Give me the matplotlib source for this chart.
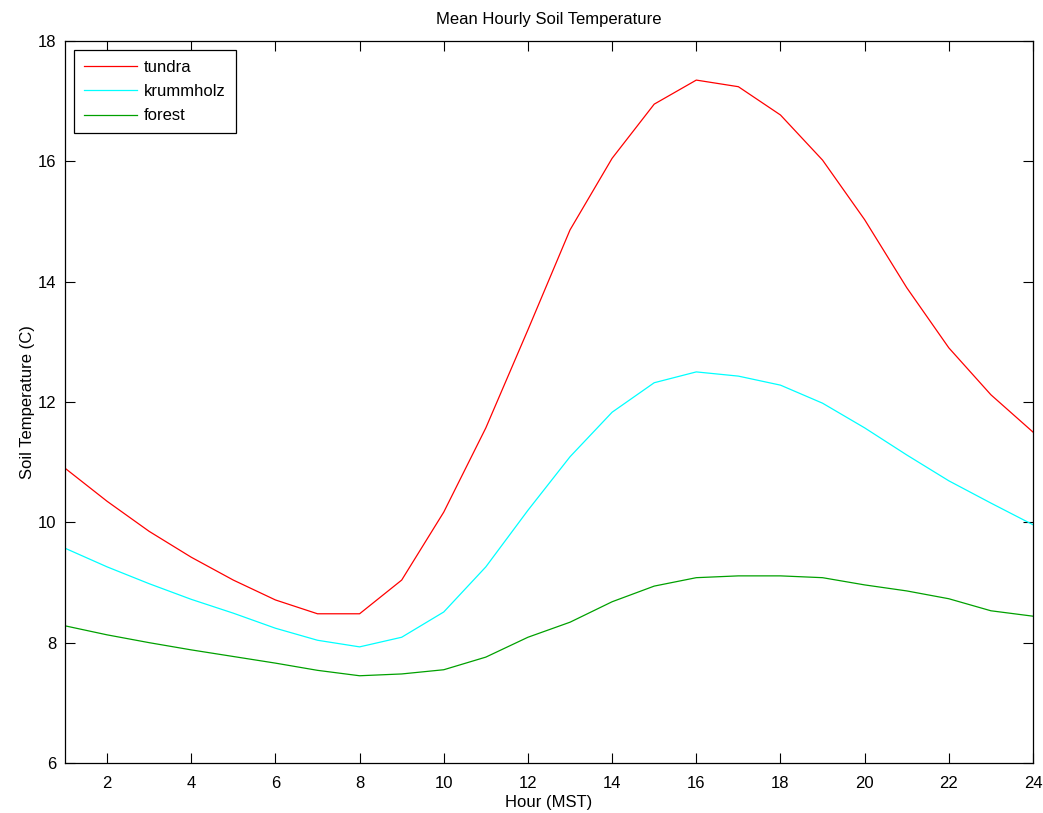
import numpy as np
import matplotlib.pyplot as plt

plt.rcParams['font.family'] = ['Liberation Sans', 'DejaVu Sans']

hours = list(range(1, 25))
tundra = [10.90, 10.35, 9.85, 9.42, 9.04, 8.71, 8.48, 8.48, 9.04, 10.17, 11.57, 13.20,
          14.86, 16.05, 16.95, 17.35, 17.24, 16.77, 16.02, 15.03, 13.90, 12.90, 12.12, 11.50]
krummholz = [9.57, 9.26, 8.98, 8.72, 8.49, 8.24, 8.04, 7.93, 8.09, 8.51, 9.26, 10.20,
             11.09, 11.83, 12.32, 12.50, 12.43, 12.28, 11.98, 11.57, 11.12, 10.69, 10.32, 9.96]
forest = [8.28, 8.13, 8.00, 7.88, 7.77, 7.66, 7.54, 7.45, 7.48, 7.55, 7.76, 8.09,
          8.34, 8.68, 8.94, 9.08, 9.11, 9.11, 9.08, 8.96, 8.86, 8.73, 8.53, 8.44]

fig = plt.figure(figsize=(10.43, 8.13), dpi=100)
ax = fig.add_axes([0.0623, 0.0615, 0.9281, 0.8881])

ax.plot(hours, tundra, color='#ff0000', lw=0.9, label='tundra')
ax.plot(hours, krummholz, color='#00ffff', lw=0.9, label='krummholz')
ax.plot(hours, forest, color='#00a000', lw=0.9, label='forest')

ax.set_xlim(1, 24)
ax.set_ylim(6, 18)
ax.set_xticks(np.arange(2, 25, 2))
ax.set_yticks(np.arange(6, 19, 2))
ax.tick_params(direction='in', length=7, width=0.8, top=True, right=True,
               labelsize=12)
ax.tick_params(axis='x', pad=9)
ax.tick_params(axis='y', pad=6)
for s in ax.spines.values():
    s.set_linewidth(0.9)

ax.set_title('Mean Hourly Soil Temperature', fontsize=12, pad=12)
ax.set_xlabel('Hour (MST)', fontsize=12, labelpad=3)
ax.set_ylabel('Soil Temperature (C)', fontsize=12, labelpad=2)

leg = ax.legend(loc='upper left', fontsize=12, fancybox=False, framealpha=1,
                edgecolor='black', handlelength=3.2, borderaxespad=0.55,
                labelspacing=0.55, handletextpad=0.4, borderpad=0.6)
leg.get_frame().set_linewidth(0.9)

fig.savefig('out.png', dpi=100)
